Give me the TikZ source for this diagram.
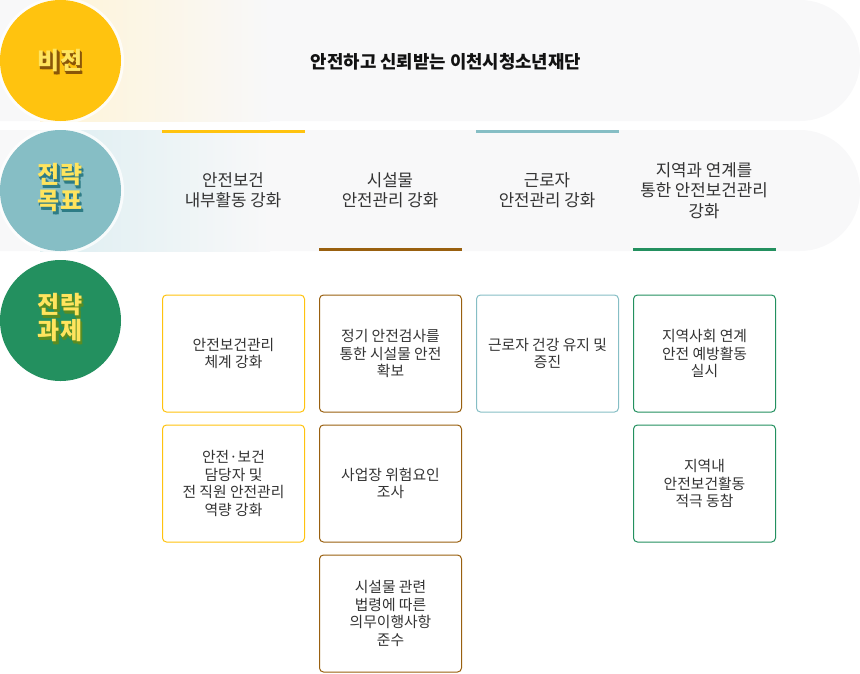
\documentclass[tikz,border=0pt]{standalone}
\usepackage{fontspec}
\setmainfont{Noto Sans CJK KR}
\definecolor{vyellow}{HTML}{FFC30F}
\definecolor{gteal}{HTML}{86BEC5}
\definecolor{tgreen}{HTML}{23905F}
\definecolor{lbrown}{HTML}{99600F}
\definecolor{bandgray}{HTML}{F8F8F9}
\definecolor{cream}{HTML}{FFF4D6}
\definecolor{lteal}{HTML}{DDEEF1}
\definecolor{ltext}{HTML}{FFE45E}
\definecolor{shbrown}{HTML}{8A5608}
\definecolor{shteal}{HTML}{2E7C86}
\definecolor{shgreen}{HTML}{5A8C22}
\definecolor{txt}{HTML}{333333}
\tikzset{
  disc/.style={circle, minimum size=121pt, inner sep=0pt, draw=none},
  disclabel/.style={align=center, inner sep=0pt, font=\bfseries\fontsize{24pt}{25.5pt}\selectfont},
  goaltext/.style={align=center, inner sep=0pt, text=txt, font=\fontsize{16.8pt}{20.3pt}\selectfont},
  taskbox/.style={draw=#1, line width=1pt, rounded corners=4pt, fill=white,
    minimum width=142pt, minimum height=117pt, inner sep=2pt, align=center,
    text=txt, font=\fontsize{14.8pt}{17.6pt}\selectfont},
}
\begin{document}
\begin{tikzpicture}[x=1pt,y=-1pt]
\useasboundingbox (0,0) rectangle (860,673);
% bands
\fill[bandgray, rounded corners=60pt] (-200,0) rectangle (860,121);
\shade[left color=cream, right color=bandgray] (40,0) rectangle (270,121);
\fill[bandgray, rounded corners=60pt] (-200,130) rectangle (860,251);
\shade[left color=lteal, right color=bandgray] (40,130) rectangle (270,251);
% halos
\fill[white, opacity=0.75] (60.5,60.5) circle (63.5pt);
\fill[white, opacity=0.75] (60.5,190.5) circle (63.5pt);
% circles
\node[disc, fill=vyellow] (cvision) at (60.5,60.5) {};
\node[disc, fill=gteal] (cgoal) at (60.5,190.5) {};
\node[disc, fill=tgreen] (ctask) at (60.5,320.5) {};
% circle labels with shadows
\foreach \dx/\dy [count=\i] in {0.8/1,1.6/2,2.2/3,1/2.8}{
  \node[disclabel, text=shbrown] (vsh\i) at (60+\dx,60.5+\dy) {비전};
  \node[disclabel, text=shteal] (gsh\i) at (60+\dx,187.5+\dy) {전략\\목표};
  \node[disclabel, text=shgreen] (tsh\i) at (60+\dx,317.5+\dy) {전략\\과제};
}
\node[disclabel, text=ltext] (lvision) at (60,60.5) {비전};
\node[disclabel, text=ltext] (lgoal) at (60,187.5) {전략\\목표};
\node[disclabel, text=ltext] (ltask) at (60,317.5) {전략\\과제};
% vision text
\node[inner sep=0pt, text=black!93, font=\bfseries\fontsize{17.8pt}{20pt}\selectfont] (vtext) at (446,62) {안전하고 신뢰받는 이천시청소년재단};
% goal accent bars
\fill[vyellow] (162,130) rectangle (304.5,133);
\fill[lbrown] (319,248) rectangle (461.5,251);
\fill[gteal] (476,130) rectangle (618.5,133);
\fill[tgreen] (633,248) rectangle (775.5,251);
% goal texts
\node[goaltext] (g1) at (233,190) {안전보건\\내부활동 강화};
\node[goaltext] (g2) at (390,190) {시설물\\안전관리 강화};
\node[goaltext] (g3) at (547,190) {근로자\\안전관리 강화};
\node[goaltext] (g4) at (704,190.5) {지역과 연계를\\통한 안전보건관리\\강화};
% task boxes
\node[taskbox=vyellow] (t11) at (233.5,353.5) {안전보건관리\\체계 강화};
\node[taskbox=vyellow] (t12) at (233.5,483.5) {안전·보건\\담당자 및\\전 직원 안전관리\\역량 강화};
\node[taskbox=lbrown] (t21) at (390.5,353.5) {정기 안전검사를\\통한 시설물 안전\\확보};
\node[taskbox=lbrown] (t22) at (390.5,483.5) {사업장 위험요인\\조사};
\node[taskbox=lbrown] (t23) at (390.5,613.5) {시설물 관련\\법령에 따른\\의무이행사항\\준수};
\node[taskbox=gteal] (t31) at (547.5,353.5) {근로자 건강 유지 및\\증진};
\node[taskbox=tgreen] (t41) at (704.5,353.5) {지역사회 연계\\안전 예방활동\\실시};
\node[taskbox=tgreen] (t42) at (704.5,483.5) {지역내\\안전보건활동\\적극 동참};
\end{tikzpicture}
\end{document}
